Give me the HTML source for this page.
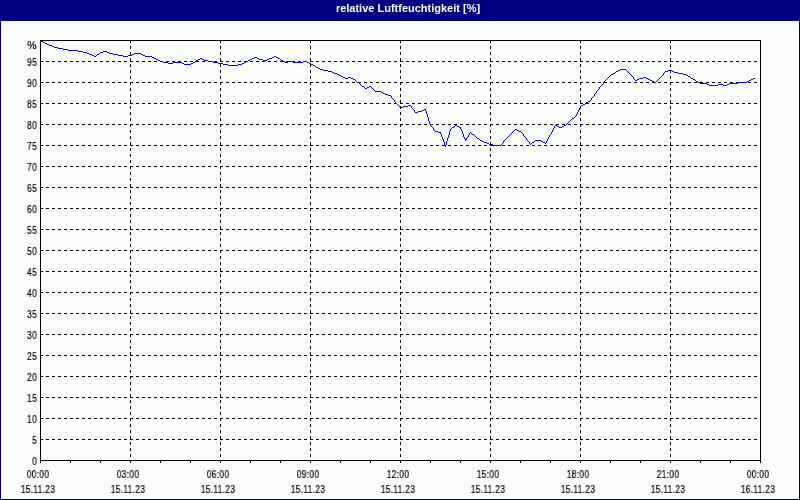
<!DOCTYPE html>
<html><head><meta charset="utf-8"><style>
html,body{margin:0;padding:0;}
body{width:800px;height:500px;overflow:hidden;}
#w{position:relative;width:800px;height:500px;background:#fcfefc;overflow:hidden;font-family:"Liberation Sans",sans-serif;}
#hd{position:absolute;left:0;top:0;width:800px;height:21px;background:#000080;}
#tt{position:absolute;will-change:transform;left:0;top:0;width:816px;text-align:center;color:#fff;font-weight:bold;font-size:11px;line-height:16px;}
.b{position:absolute;background:#000080;}
.wh{position:absolute;background:#fff;}
svg{position:absolute;left:0;top:0;}
.d{stroke:#000;stroke-width:1;stroke-dasharray:3 3;}
.s{stroke:#000;stroke-width:1;}
.yl{position:absolute;will-change:transform;left:0;width:37px;text-align:right;font-size:10px;line-height:14px;color:#000;transform:scaleX(0.85);transform-origin:37px 0;letter-spacing:0.3px;-webkit-text-stroke:0.2px #000;}
.xl{position:absolute;will-change:transform;width:80px;text-align:center;font-size:10px;line-height:14px;color:#000;transform:scaleX(0.85);letter-spacing:0.3px;-webkit-text-stroke:0.2px #000;}
</style></head><body>
<div id="w">
<div id="hd"></div>
<div id="tt">relative Luftfeuchtigkeit [%]</div>
<div class="b" style="left:0;top:21px;width:1px;height:479px"></div>
<div class="b" style="left:799px;top:21px;width:1px;height:479px"></div>
<div class="b" style="left:0;top:499px;width:800px;height:1px"></div>
<svg width="800" height="500" viewBox="0 0 800 500" shape-rendering="crispEdges">
<line x1="40" y1="61.5" x2="760" y2="61.5" class="d"/>
<line x1="40" y1="82.5" x2="760" y2="82.5" class="d"/>
<line x1="40" y1="103.5" x2="760" y2="103.5" class="d"/>
<line x1="40" y1="124.5" x2="760" y2="124.5" class="d"/>
<line x1="40" y1="145.5" x2="760" y2="145.5" class="d"/>
<line x1="40" y1="166.5" x2="760" y2="166.5" class="d"/>
<line x1="40" y1="187.5" x2="760" y2="187.5" class="d"/>
<line x1="40" y1="208.5" x2="760" y2="208.5" class="d"/>
<line x1="40" y1="229.5" x2="760" y2="229.5" class="d"/>
<line x1="40" y1="250.5" x2="760" y2="250.5" class="d"/>
<line x1="40" y1="271.5" x2="760" y2="271.5" class="d"/>
<line x1="40" y1="292.5" x2="760" y2="292.5" class="d"/>
<line x1="40" y1="313.5" x2="760" y2="313.5" class="d"/>
<line x1="40" y1="334.5" x2="760" y2="334.5" class="d"/>
<line x1="40" y1="355.5" x2="760" y2="355.5" class="d"/>
<line x1="40" y1="376.5" x2="760" y2="376.5" class="d"/>
<line x1="40" y1="397.5" x2="760" y2="397.5" class="d"/>
<line x1="40" y1="418.5" x2="760" y2="418.5" class="d"/>
<line x1="40" y1="439.5" x2="760" y2="439.5" class="d"/>
<line x1="130.5" y1="40" x2="130.5" y2="460" class="d"/>
<line x1="220.5" y1="40" x2="220.5" y2="460" class="d"/>
<line x1="310.5" y1="40" x2="310.5" y2="460" class="d"/>
<line x1="400.5" y1="40" x2="400.5" y2="460" class="d"/>
<line x1="490.5" y1="40" x2="490.5" y2="460" class="d"/>
<line x1="580.5" y1="40" x2="580.5" y2="460" class="d"/>
<line x1="670.5" y1="40" x2="670.5" y2="460" class="d"/>
<path d="M40 40h1v1h-1zM41 41h2v1h-2zM43 42h2v1h-2zM45 43h2v1h-2zM47 44h2v1h-2zM49 45h3v1h-3zM52 46h2v1h-2zM54 47h4v1h-4zM58 48h5v1h-5zM63 49h5v1h-5zM68 50h10v1h-10zM78 51h5v1h-5zM103 51h4v1h-4zM83 52h4v1h-4zM100 52h3v1h-3zM107 52h2v1h-2zM87 53h2v1h-2zM99 53h1v1h-1zM109 53h4v1h-4zM134 53h7v1h-7zM89 54h3v1h-3zM97 54h2v1h-2zM113 54h5v1h-5zM132 54h2v1h-2zM141 54h2v1h-2zM92 55h2v1h-2zM96 55h1v1h-1zM118 55h5v1h-5zM128 55h4v1h-4zM143 55h2v1h-2zM94 56h2v1h-2zM123 56h5v1h-5zM145 56h7v1h-7zM274 56h2v1h-2zM152 57h2v1h-2zM254 57h3v1h-3zM272 57h2v1h-2zM276 57h2v1h-2zM154 58h2v1h-2zM200 58h2v1h-2zM252 58h2v1h-2zM257 58h2v1h-2zM269 58h3v1h-3zM278 58h2v1h-2zM156 59h2v1h-2zM198 59h2v1h-2zM202 59h2v1h-2zM250 59h2v1h-2zM259 59h4v1h-4zM267 59h2v1h-2zM280 59h1v1h-1zM158 60h2v1h-2zM196 60h2v1h-2zM204 60h4v1h-4zM248 60h2v1h-2zM263 60h4v1h-4zM281 60h2v1h-2zM160 61h3v1h-3zM195 61h1v1h-1zM208 61h5v1h-5zM246 61h2v1h-2zM283 61h2v1h-2zM288 61h5v1h-5zM303 61h4v1h-4zM163 62h5v1h-5zM173 62h9v1h-9zM193 62h2v1h-2zM213 62h5v1h-5zM244 62h2v1h-2zM285 62h3v1h-3zM293 62h10v1h-10zM307 62h2v1h-2zM168 63h5v1h-5zM182 63h2v1h-2zM191 63h2v1h-2zM218 63h5v1h-5zM242 63h2v1h-2zM309 63h2v1h-2zM184 64h7v1h-7zM223 64h5v1h-5zM238 64h4v1h-4zM311 64h2v1h-2zM228 65h10v1h-10zM313 65h2v1h-2zM315 66h1v1h-1zM316 67h2v1h-2zM318 68h2v1h-2zM320 69h3v1h-3zM620 69h6v1h-6zM323 70h5v1h-5zM618 70h2v1h-2zM626 70h1v1h-1zM668 70h4v1h-4zM328 71h4v1h-4zM616 71h2v1h-2zM627 71h1v1h-1zM665 71h3v1h-3zM672 71h2v1h-2zM332 72h2v1h-2zM615 72h1v1h-1zM628 72h1v1h-1zM664 72h1v1h-1zM674 72h4v1h-4zM334 73h3v1h-3zM613 73h2v1h-2zM629 73h1v1h-1zM663 73h1v1h-1zM678 73h5v1h-5zM337 74h2v1h-2zM611 74h2v1h-2zM630 74h1v1h-1zM663 74h1v1h-1zM683 74h3v1h-3zM339 75h2v1h-2zM610 75h1v1h-1zM631 75h1v1h-1zM662 75h1v1h-1zM686 75h2v1h-2zM341 76h2v1h-2zM609 76h1v1h-1zM632 76h1v1h-1zM661 76h1v1h-1zM688 76h2v1h-2zM343 77h2v1h-2zM348 77h3v1h-3zM608 77h1v1h-1zM633 77h1v1h-1zM643 77h3v1h-3zM660 77h1v1h-1zM690 77h1v1h-1zM345 78h3v1h-3zM351 78h2v1h-2zM607 78h1v1h-1zM633 78h1v1h-1zM639 78h4v1h-4zM646 78h2v1h-2zM659 78h1v1h-1zM691 78h2v1h-2zM753 78h2v1h-2zM353 79h2v1h-2zM606 79h1v1h-1zM634 79h1v1h-1zM637 79h2v1h-2zM648 79h2v1h-2zM658 79h1v1h-1zM693 79h2v1h-2zM751 79h2v1h-2zM355 80h1v1h-1zM605 80h1v1h-1zM635 80h2v1h-2zM650 80h2v1h-2zM657 80h1v1h-1zM695 80h1v1h-1zM749 80h2v1h-2zM356 81h1v1h-1zM604 81h1v1h-1zM652 81h2v1h-2zM656 81h1v1h-1zM696 81h2v1h-2zM747 81h2v1h-2zM357 82h2v1h-2zM603 82h1v1h-1zM654 82h2v1h-2zM698 82h2v1h-2zM738 82h9v1h-9zM359 83h1v1h-1zM603 83h1v1h-1zM700 83h7v1h-7zM729 83h9v1h-9zM360 84h1v1h-1zM602 84h1v1h-1zM707 84h2v1h-2zM718 84h5v1h-5zM727 84h2v1h-2zM361 85h1v1h-1zM601 85h1v1h-1zM709 85h9v1h-9zM723 85h4v1h-4zM362 86h2v1h-2zM369 86h2v1h-2zM600 86h1v1h-1zM364 87h1v1h-1zM367 87h2v1h-2zM371 87h1v1h-1zM599 87h1v1h-1zM365 88h2v1h-2zM372 88h1v1h-1zM599 88h1v1h-1zM373 89h1v1h-1zM598 89h1v1h-1zM374 90h1v1h-1zM597 90h1v1h-1zM375 91h6v1h-6zM596 91h1v1h-1zM381 92h2v1h-2zM596 92h1v1h-1zM383 93h2v1h-2zM595 93h1v1h-1zM385 94h3v1h-3zM594 94h1v1h-1zM388 95h3v1h-3zM594 95h1v1h-1zM391 96h1v1h-1zM593 96h1v1h-1zM391 97h1v1h-1zM592 97h1v1h-1zM392 98h1v1h-1zM591 98h1v1h-1zM393 99h1v1h-1zM591 99h1v1h-1zM394 100h1v1h-1zM590 100h1v1h-1zM394 101h1v1h-1zM588 101h2v1h-2zM395 102h1v1h-1zM586 102h2v1h-2zM396 103h1v1h-1zM585 103h1v1h-1zM397 104h1v1h-1zM583 104h2v1h-2zM398 105h1v1h-1zM408 105h3v1h-3zM581 105h2v1h-2zM399 106h1v1h-1zM403 106h5v1h-5zM411 106h1v1h-1zM580 106h1v1h-1zM400 107h3v1h-3zM411 107h1v1h-1zM580 107h1v1h-1zM412 108h1v1h-1zM579 108h1v1h-1zM413 109h1v1h-1zM424 109h2v1h-2zM579 109h1v1h-1zM414 110h1v1h-1zM422 110h2v1h-2zM425 110h1v1h-1zM578 110h1v1h-1zM414 111h1v1h-1zM418 111h4v1h-4zM426 111h1v1h-1zM578 111h1v1h-1zM415 112h3v1h-3zM426 112h1v1h-1zM577 112h1v1h-1zM426 113h1v1h-1zM577 113h1v1h-1zM427 114h1v1h-1zM576 114h1v1h-1zM427 115h1v1h-1zM576 115h1v1h-1zM427 116h1v1h-1zM575 116h1v1h-1zM428 117h1v1h-1zM574 117h1v1h-1zM428 118h1v1h-1zM572 118h2v1h-2zM428 119h1v1h-1zM571 119h1v1h-1zM428 120h1v1h-1zM570 120h1v1h-1zM429 121h1v1h-1zM569 121h1v1h-1zM429 122h1v1h-1zM568 122h1v1h-1zM429 123h1v1h-1zM567 123h1v1h-1zM430 124h1v1h-1zM566 124h1v1h-1zM430 125h1v1h-1zM455 125h2v1h-2zM555 125h2v1h-2zM564 125h2v1h-2zM431 126h1v1h-1zM454 126h1v1h-1zM457 126h2v1h-2zM554 126h1v1h-1zM557 126h2v1h-2zM562 126h2v1h-2zM432 127h1v1h-1zM452 127h2v1h-2zM459 127h2v1h-2zM554 127h1v1h-1zM559 127h3v1h-3zM433 128h1v1h-1zM451 128h1v1h-1zM460 128h1v1h-1zM553 128h1v1h-1zM433 129h1v1h-1zM450 129h1v1h-1zM461 129h1v1h-1zM515 129h2v1h-2zM553 129h1v1h-1zM434 130h1v1h-1zM450 130h1v1h-1zM461 130h1v1h-1zM514 130h1v1h-1zM517 130h2v1h-2zM552 130h1v1h-1zM435 131h3v1h-3zM449 131h1v1h-1zM462 131h1v1h-1zM513 131h1v1h-1zM519 131h2v1h-2zM552 131h1v1h-1zM438 132h3v1h-3zM449 132h1v1h-1zM462 132h1v1h-1zM470 132h1v1h-1zM512 132h1v1h-1zM521 132h1v1h-1zM551 132h1v1h-1zM440 133h1v1h-1zM449 133h1v1h-1zM462 133h1v1h-1zM469 133h1v1h-1zM471 133h1v1h-1zM511 133h1v1h-1zM522 133h1v1h-1zM551 133h1v1h-1zM441 134h1v1h-1zM449 134h1v1h-1zM463 134h1v1h-1zM469 134h1v1h-1zM472 134h2v1h-2zM510 134h1v1h-1zM523 134h1v1h-1zM550 134h1v1h-1zM441 135h1v1h-1zM448 135h1v1h-1zM463 135h1v1h-1zM468 135h1v1h-1zM474 135h1v1h-1zM509 135h1v1h-1zM523 135h1v1h-1zM549 135h1v1h-1zM441 136h1v1h-1zM448 136h1v1h-1zM463 136h1v1h-1zM468 136h1v1h-1zM475 136h1v1h-1zM508 136h1v1h-1zM524 136h1v1h-1zM549 136h1v1h-1zM442 137h1v1h-1zM448 137h1v1h-1zM464 137h1v1h-1zM467 137h1v1h-1zM476 137h1v1h-1zM507 137h1v1h-1zM525 137h1v1h-1zM548 137h1v1h-1zM442 138h1v1h-1zM447 138h1v1h-1zM464 138h1v1h-1zM466 138h1v1h-1zM477 138h2v1h-2zM506 138h1v1h-1zM526 138h1v1h-1zM548 138h1v1h-1zM443 139h1v1h-1zM447 139h1v1h-1zM465 139h2v1h-2zM479 139h1v1h-1zM505 139h1v1h-1zM526 139h1v1h-1zM547 139h1v1h-1zM443 140h1v1h-1zM447 140h1v1h-1zM465 140h1v1h-1zM480 140h2v1h-2zM504 140h1v1h-1zM527 140h1v1h-1zM535 140h6v1h-6zM547 140h1v1h-1zM443 141h1v1h-1zM446 141h1v1h-1zM482 141h2v1h-2zM503 141h1v1h-1zM528 141h1v1h-1zM534 141h1v1h-1zM541 141h2v1h-2zM546 141h1v1h-1zM444 142h1v1h-1zM446 142h1v1h-1zM484 142h3v1h-3zM503 142h1v1h-1zM529 142h1v1h-1zM532 142h2v1h-2zM543 142h2v1h-2zM546 142h1v1h-1zM444 143h1v1h-1zM446 143h1v1h-1zM487 143h2v1h-2zM502 143h1v1h-1zM529 143h1v1h-1zM531 143h1v1h-1zM545 143h1v1h-1zM444 144h1v1h-1zM446 144h1v1h-1zM489 144h4v1h-4zM501 144h1v1h-1zM530 144h1v1h-1zM445 145h1v1h-1zM493 145h8v1h-8zM445 146h1v1h-1z" fill="#0000ff" stroke="none"/>
<line x1="40" y1="40.5" x2="761" y2="40.5" class="s"/>
<line x1="40" y1="460.5" x2="761" y2="460.5" class="s"/>
<line x1="40.5" y1="40" x2="40.5" y2="463" class="s"/>
<line x1="760.5" y1="40" x2="760.5" y2="463" class="s"/>
<line x1="40.5" y1="461" x2="40.5" y2="463" class="s"/>
<line x1="70.5" y1="461" x2="70.5" y2="463" class="s"/>
<line x1="100.5" y1="461" x2="100.5" y2="463" class="s"/>
<line x1="130.5" y1="461" x2="130.5" y2="463" class="s"/>
<line x1="160.5" y1="461" x2="160.5" y2="463" class="s"/>
<line x1="190.5" y1="461" x2="190.5" y2="463" class="s"/>
<line x1="220.5" y1="461" x2="220.5" y2="463" class="s"/>
<line x1="250.5" y1="461" x2="250.5" y2="463" class="s"/>
<line x1="280.5" y1="461" x2="280.5" y2="463" class="s"/>
<line x1="310.5" y1="461" x2="310.5" y2="463" class="s"/>
<line x1="340.5" y1="461" x2="340.5" y2="463" class="s"/>
<line x1="370.5" y1="461" x2="370.5" y2="463" class="s"/>
<line x1="400.5" y1="461" x2="400.5" y2="463" class="s"/>
<line x1="430.5" y1="461" x2="430.5" y2="463" class="s"/>
<line x1="460.5" y1="461" x2="460.5" y2="463" class="s"/>
<line x1="490.5" y1="461" x2="490.5" y2="463" class="s"/>
<line x1="520.5" y1="461" x2="520.5" y2="463" class="s"/>
<line x1="550.5" y1="461" x2="550.5" y2="463" class="s"/>
<line x1="580.5" y1="461" x2="580.5" y2="463" class="s"/>
<line x1="610.5" y1="461" x2="610.5" y2="463" class="s"/>
<line x1="640.5" y1="461" x2="640.5" y2="463" class="s"/>
<line x1="670.5" y1="461" x2="670.5" y2="463" class="s"/>
<line x1="700.5" y1="461" x2="700.5" y2="463" class="s"/>
<line x1="730.5" y1="461" x2="730.5" y2="463" class="s"/>
<line x1="760.5" y1="461" x2="760.5" y2="463" class="s"/>
</svg>
<div class="yl" style="top:455px">0</div>
<div class="yl" style="top:434px">5</div>
<div class="yl" style="top:413px">10</div>
<div class="yl" style="top:392px">15</div>
<div class="yl" style="top:371px">20</div>
<div class="yl" style="top:350px">25</div>
<div class="yl" style="top:329px">30</div>
<div class="yl" style="top:308px">35</div>
<div class="yl" style="top:287px">40</div>
<div class="yl" style="top:266px">45</div>
<div class="yl" style="top:245px">50</div>
<div class="yl" style="top:224px">55</div>
<div class="yl" style="top:203px">60</div>
<div class="yl" style="top:182px">65</div>
<div class="yl" style="top:161px">70</div>
<div class="yl" style="top:140px">75</div>
<div class="yl" style="top:119px">80</div>
<div class="yl" style="top:98px">85</div>
<div class="yl" style="top:77px">90</div>
<div class="yl" style="top:56px">95</div>
<div class="yl" style="top:39px;transform:scaleX(1.05)">%</div>
<div class="xl" style="left:-2px;top:468px">00:00</div>
<div class="xl" style="left:-2px;top:483px">15.11.23</div>
<div class="xl" style="left:88px;top:468px">03:00</div>
<div class="xl" style="left:88px;top:483px">15.11.23</div>
<div class="xl" style="left:178px;top:468px">06:00</div>
<div class="xl" style="left:178px;top:483px">15.11.23</div>
<div class="xl" style="left:268px;top:468px">09:00</div>
<div class="xl" style="left:268px;top:483px">15.11.23</div>
<div class="xl" style="left:358px;top:468px">12:00</div>
<div class="xl" style="left:358px;top:483px">15.11.23</div>
<div class="xl" style="left:448px;top:468px">15:00</div>
<div class="xl" style="left:448px;top:483px">15.11.23</div>
<div class="xl" style="left:538px;top:468px">18:00</div>
<div class="xl" style="left:538px;top:483px">15.11.23</div>
<div class="xl" style="left:628px;top:468px">21:00</div>
<div class="xl" style="left:628px;top:483px">15.11.23</div>
<div class="xl" style="left:718px;top:468px">00:00</div>
<div class="xl" style="left:718px;top:483px">16.11.23</div>
</div>
</body></html>
